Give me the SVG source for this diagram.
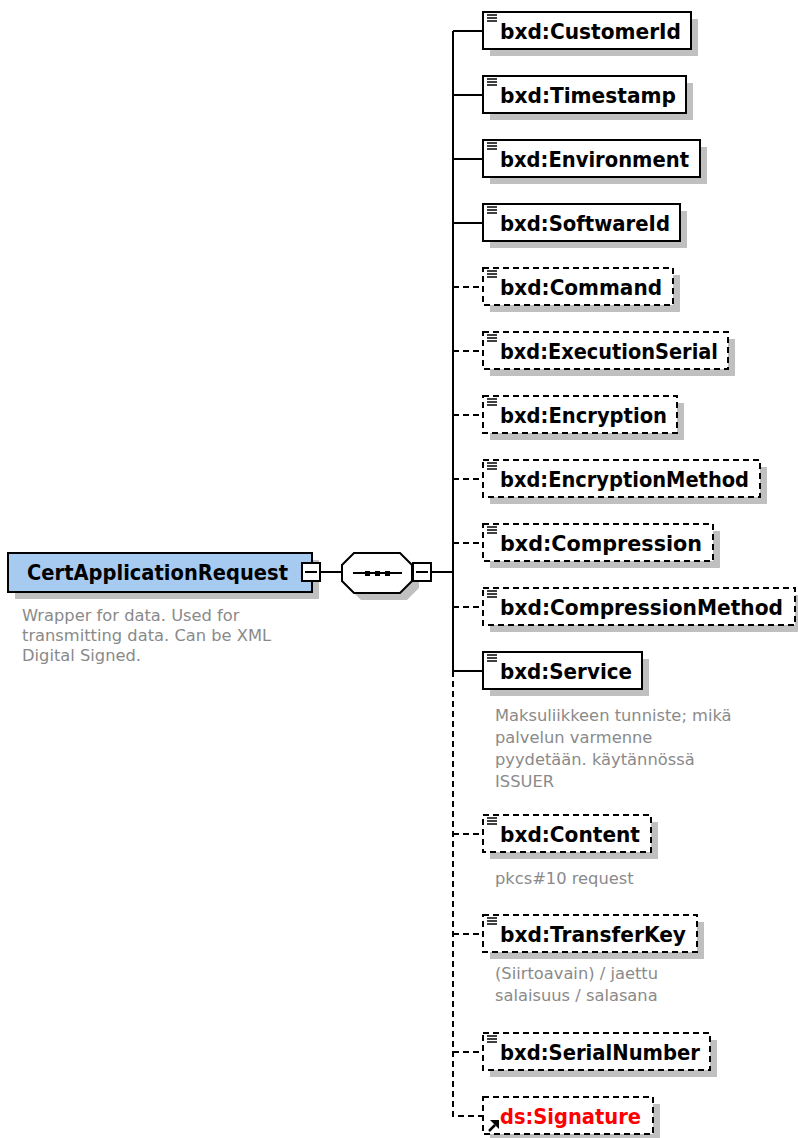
<svg xmlns="http://www.w3.org/2000/svg" width="798" height="1138" viewBox="0 0 798 1138">
<style>
.sh{fill:#c0c0c0;stroke:none}
.box{fill:#fff;stroke:#000;stroke-width:2}
.opt{fill:#fff;stroke:#000;stroke-width:2;stroke-dasharray:6,4}
.ln{fill:none;stroke:#000;stroke-width:2}
.dl{fill:none;stroke:#000;stroke-width:2;stroke-dasharray:6,4}
.ic{fill:none;stroke:#000;stroke-width:1.5}
.t{font-family:"DejaVu Sans",Verdana,sans-serif;font-weight:bold;font-size:21px;fill:#000}
.a{font-family:"DejaVu Sans",Verdana,sans-serif;font-size:16.3px;fill:#8a8a8a}
</style>
<defs>
<g id="icon"><path class="ic" d="M487 0h10M487 3h10M487 6h10"/></g>
</defs>
<rect width="798" height="1138" fill="#fff"/>

<g id="connectors">
<path class="ln" d="M320 572H342M431 572H453M453 31V671"/>
<path class="dl" d="M453 671V1116H483"/>
<path class="ln" d="M453 31H483M453 95H483M453 159H483M453 223H483M453 671H483"/>
<path class="dl" d="M453 287H483M453 351H483M453 415H483M453 479H483M453 543H483M453 607H483M453 834H483M453 934H483M453 1052H483"/>
</g>

<g id="root">
<rect class="sh" x="15" y="560" width="304" height="39"/>
<rect x="8" y="553" width="304" height="39" fill="#a6caf0" stroke="#000" stroke-width="2"/>
<text class="t" x="27" y="580" textLength="261" lengthAdjust="spacingAndGlyphs">CertApplicationRequest</text>
<rect class="box" x="302" y="563" width="18" height="18"/>
<path class="ln" d="M305 572H317" stroke-width="1.5"/>
<text class="a" x="22" y="621">Wrapper for data. Used for</text>
<text class="a" x="22" y="641">transmitting data. Can be XML</text>
<text class="a" x="22" y="661">Digital Signed.</text>
</g>

<g id="sequence">
<polygon class="sh" points="361,560 407,560 419,572 419,588 407,600 361,600 349,588 349,572"/>
<polygon class="box" points="354,553 400,553 412,565 412,581 400,593 354,593 342,581 342,565"/>
<path class="ln" d="M353 573H402"/>
<rect x="365" y="571" width="5" height="5"/>
<rect x="375" y="571" width="5" height="5"/>
<rect x="385" y="571" width="5" height="5"/>
<rect class="box" x="413" y="563" width="18" height="18"/>
<path class="ln" d="M416 572H428" stroke-width="1.5"/>
</g>

<g id="CustomerId">
<rect class="sh" x="490" y="19" width="208" height="37"/>
<rect class="box" x="483" y="12" width="208" height="37"/>
<use href="#icon" y="15"/>
<text class="t" x="500" y="39" textLength="181" lengthAdjust="spacingAndGlyphs">bxd:CustomerId</text>
</g>

<g id="Timestamp">
<rect class="sh" x="490" y="83" width="203" height="37"/>
<rect class="box" x="483" y="76" width="203" height="37"/>
<use href="#icon" y="79"/>
<text class="t" x="500" y="103" textLength="176" lengthAdjust="spacingAndGlyphs">bxd:Timestamp</text>
</g>

<g id="Environment">
<rect class="sh" x="490" y="147" width="217" height="37"/>
<rect class="box" x="483" y="140" width="217" height="37"/>
<use href="#icon" y="143"/>
<text class="t" x="500" y="167" textLength="189" lengthAdjust="spacingAndGlyphs">bxd:Environment</text>
</g>

<g id="SoftwareId">
<rect class="sh" x="490" y="211" width="197" height="37"/>
<rect class="box" x="483" y="204" width="197" height="37"/>
<use href="#icon" y="207"/>
<text class="t" x="500" y="231" textLength="170" lengthAdjust="spacingAndGlyphs">bxd:SoftwareId</text>
</g>

<g id="Command">
<rect class="sh" x="490" y="275" width="190" height="37"/>
<rect class="opt" x="483" y="268" width="190" height="37"/>
<use href="#icon" y="271"/>
<text class="t" x="500" y="295" textLength="162" lengthAdjust="spacingAndGlyphs">bxd:Command</text>
</g>

<g id="ExecutionSerial">
<rect class="sh" x="490" y="339" width="245" height="37"/>
<rect class="opt" x="483" y="332" width="245" height="37"/>
<use href="#icon" y="335"/>
<text class="t" x="500" y="359" textLength="218" lengthAdjust="spacingAndGlyphs">bxd:ExecutionSerial</text>
</g>

<g id="Encryption">
<rect class="sh" x="490" y="403" width="194" height="37"/>
<rect class="opt" x="483" y="396" width="194" height="37"/>
<use href="#icon" y="399"/>
<text class="t" x="500" y="423" textLength="167" lengthAdjust="spacingAndGlyphs">bxd:Encryption</text>
</g>

<g id="EncryptionMethod">
<rect class="sh" x="490" y="467" width="277" height="37"/>
<rect class="opt" x="483" y="460" width="277" height="37"/>
<use href="#icon" y="463"/>
<text class="t" x="500" y="487" textLength="249" lengthAdjust="spacingAndGlyphs">bxd:EncryptionMethod</text>
</g>

<g id="Compression">
<rect class="sh" x="490" y="531" width="230" height="37"/>
<rect class="opt" x="483" y="524" width="230" height="37"/>
<use href="#icon" y="527"/>
<text class="t" x="500" y="551" textLength="202" lengthAdjust="spacingAndGlyphs">bxd:Compression</text>
</g>

<g id="CompressionMethod">
<rect class="sh" x="490" y="595" width="308" height="37"/>
<rect class="opt" x="483" y="588" width="312" height="37"/>
<use href="#icon" y="591"/>
<text class="t" x="500" y="615" textLength="283" lengthAdjust="spacingAndGlyphs">bxd:CompressionMethod</text>
</g>

<g id="Service">
<rect class="sh" x="490" y="659" width="159" height="37"/>
<rect class="box" x="483" y="652" width="159" height="37"/>
<use href="#icon" y="655"/>
<text class="t" x="500" y="679" textLength="132" lengthAdjust="spacingAndGlyphs">bxd:Service</text>
<text class="a" x="495" y="721">Maksuliikkeen tunniste; mikä</text>
<text class="a" x="495" y="743">palvelun varmenne</text>
<text class="a" x="495" y="765">pyydetään. käytännössä</text>
<text class="a" x="495" y="787">ISSUER</text>
</g>

<g id="Content">
<rect class="sh" x="490" y="822" width="168" height="37"/>
<rect class="opt" x="483" y="815" width="168" height="37"/>
<use href="#icon" y="818"/>
<text class="t" x="500" y="842" textLength="140" lengthAdjust="spacingAndGlyphs">bxd:Content</text>
<text class="a" x="495" y="884">pkcs#10 request</text>
</g>

<g id="TransferKey">
<rect class="sh" x="490" y="922" width="214" height="37"/>
<rect class="opt" x="483" y="915" width="214" height="37"/>
<use href="#icon" y="918"/>
<text class="t" x="500" y="942" textLength="186" lengthAdjust="spacingAndGlyphs">bxd:TransferKey</text>
<text class="a" x="495" y="979">(Siirtoavain) / jaettu</text>
<text class="a" x="495" y="1001">salaisuus / salasana</text>
</g>

<g id="SerialNumber">
<rect class="sh" x="490" y="1040" width="227" height="37"/>
<rect class="opt" x="483" y="1033" width="227" height="37"/>
<use href="#icon" y="1036"/>
<text class="t" x="500" y="1060" textLength="200" lengthAdjust="spacingAndGlyphs">bxd:SerialNumber</text>
</g>

<g id="Signature">
<rect class="sh" x="490" y="1104" width="170" height="37"/>
<rect class="opt" x="483" y="1097" width="170" height="37"/>
<path d="M489 1131L495 1125" stroke="#000" stroke-width="2.5"/>
<polygon points="499,1120 499,1129 490,1120"/>
<text class="t" x="500" y="1124" textLength="141" lengthAdjust="spacingAndGlyphs" style="fill:#f00">ds:Signature</text>
</g>
</svg>
